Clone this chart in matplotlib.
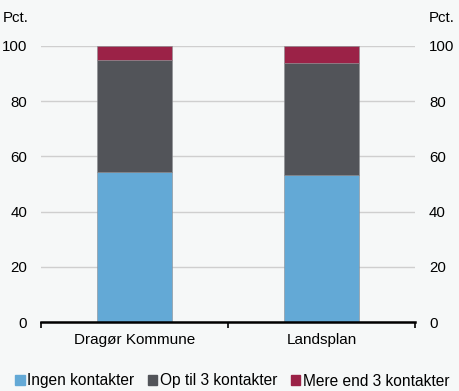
import numpy as np
import matplotlib.pyplot as plt
from matplotlib.patches import Patch

# Data
kategorier = ['Dragør Kommune', 'Landsplan']
ingen = [54.2, 53.1]
op_til_3 = [40.6, 40.6]
mere_end_3 = [5.2, 6.3]
serier = ['Ingen kontakter', 'Op til 3 kontakter', 'Mere end 3 kontakter']
farver = ['#63a9d6', '#525459', '#9b2247']

bg = '#f6f8f8'
plt.rcParams['font.family'] = ['Liberation Sans', 'DejaVu Sans']

fig = plt.figure(figsize=(4.6, 3.91), dpi=100, facecolor=bg)
ax = fig.add_axes([41 / 460, 1 - 322 / 391, 374 / 460, 276 / 391])
ax.set_facecolor(bg)

x = np.arange(len(kategorier))
bund = np.zeros(len(kategorier))
for vals, farve, navn in zip([ingen, op_til_3, mere_end_3], farver, serier):
    ax.bar(x, vals, bottom=bund, width=0.4, color=farve, label=navn, zorder=3,
           edgecolor='#8a8c90', linewidth=0.4)
    bund += np.array(vals)

ax.set_xlim(-0.5, 1.5)
ax.set_ylim(0, 100)
ax.set_yticks(range(0, 101, 20))
ax.yaxis.grid(True, color='#cfcfcf', linewidth=1, zorder=0)
ax.tick_params(axis='y', length=0, labelsize=10.8, pad=10, labelright=True)
ax.set_xticks(x)
ax.set_xticklabels(kategorier, fontsize=11)
ax.set_xticks([-0.5, 0.5, 1.5], minor=True)
ax.tick_params(axis='x', which='major', length=0, pad=8)
ax.tick_params(axis='x', which='minor', length=4, width=1.2, direction='out', color='black')
for s in ['top', 'left', 'right']:
    ax.spines[s].set_visible(False)
ax.spines['bottom'].set_linewidth(1.8)
ax.spines['bottom'].set_zorder(4)

fig.text(3 / 460, 1 - 18 / 391, 'Pct.', fontsize=10.8, va='center', ha='left')
fig.text(429 / 460, 1 - 18 / 391, 'Pct.', fontsize=10.8, va='center', ha='left')

handles = [Patch(color=c) for c in farver]
fig.legend(handles, serier, loc='center', bbox_to_anchor=(0.505, 1 - 381 / 391), ncol=3,
           frameon=False, fontsize=11.2, handlelength=0.6, handleheight=0.6,
           handletextpad=0.15, columnspacing=0.9, borderaxespad=0)

fig.savefig('out.png', dpi=100, facecolor=bg)
